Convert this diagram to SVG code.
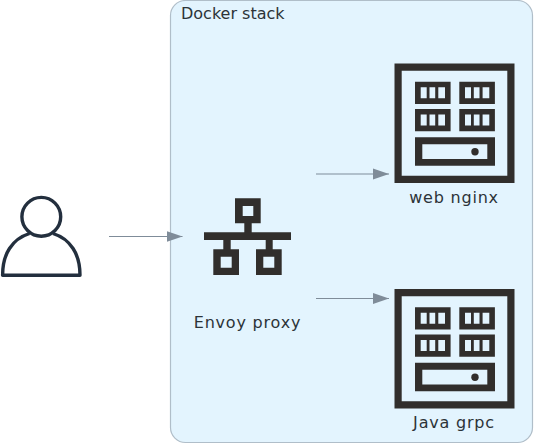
<svg xmlns="http://www.w3.org/2000/svg" width="534" height="444" viewBox="0 0 534 444">
<style>
text{font-family:"DejaVu Sans",sans-serif;font-size:16px;fill:#2c3338}
.lbl{letter-spacing:.8px}
.ink{fill:#312e2c}
.win{fill:#e3f4fe}
.conn{stroke:#7f8c99;stroke-width:1.2;fill:none;marker-end:url(#arrow)}
</style>
<defs>
<marker id="arrow" markerUnits="userSpaceOnUse" markerWidth="16" markerHeight="12" refX="16" refY="6" orient="auto"><path d="M0 .5L16 6L0 11.5Z" fill="#7f8c99"/></marker>
<g id="srv">
<path class="ink" fill-rule="evenodd" d="M394.5 63.5H514.5V183H394.5ZM401.7 70.7V175.8H507.3V70.7Z"/>
<g id="rack">
<path class="ink" d="M415 81.7H450.6V104H415Z"/>
<path class="win" d="M420.7 87.3H426.7V98.3H420.7ZM429.5 87.3H435.2V98.3H429.5ZM438.3 87.3H445V98.3H438.3Z"/>
</g>
<use href="#rack" x="44.3"/><use href="#rack" y="27.3"/><use href="#rack" x="44.3" y="27.3"/>
<path class="ink" d="M415 137.3H495V165.7H415Z"/>
<path class="win" d="M422.3 144.3H487.3V159H422.3Z"/>
<circle class="ink" cx="475" cy="151.7" r="3.7"/>
</g>
</defs>
<g id="stack">
<rect x="170.5" y="0.5" width="362" height="442" rx="15" fill="#e3f4fe" stroke="#b0bec9" stroke-width="1.2"/>
<text x="181" y="19">Docker stack</text>
</g>
<g id="connectors">
<path class="conn" d="M109 236.5H182.5"/>
<path class="conn" d="M316 174H389"/>
<path class="conn" d="M316 298.5H389"/>
</g>
<g id="user">
<circle cx="41.3" cy="216.8" r="19.4" fill="none" stroke="#232f3e" stroke-width="3.4"/>
<path d="M29.5 233.5C12 239 2.6 254 2.6 275.2H80C80 254 70.5 239 53 233.5" fill="none" stroke="#232f3e" stroke-width="3.4" stroke-linejoin="round"/>
</g>
<g id="envoy">
<path class="ink" fill-rule="evenodd" d="M235 198.3H260.7V223.3H251.7V232.3H291V240H272.7V249.3H281.7V275H256V249.3H265.7V240H230.7V249.3H239V275H213.3V249.3H223.3V240H204V232.3H244.3V223.3H235ZM242.7 206V216H253.3V206ZM220.7 256.7V267.7H231.7V256.7ZM263.3 256.7V267.7H274.3V256.7Z"/>
<text class="lbl" x="247.5" y="328" text-anchor="middle">Envoy proxy</text>
</g>
<g id="web">
<use href="#srv"/>
<text class="lbl" x="454" y="203" text-anchor="middle">web nginx</text>
</g>
<g id="java">
<use href="#srv" y="225.5"/>
<text class="lbl" x="454" y="428" text-anchor="middle">Java grpc</text>
</g>
</svg>
